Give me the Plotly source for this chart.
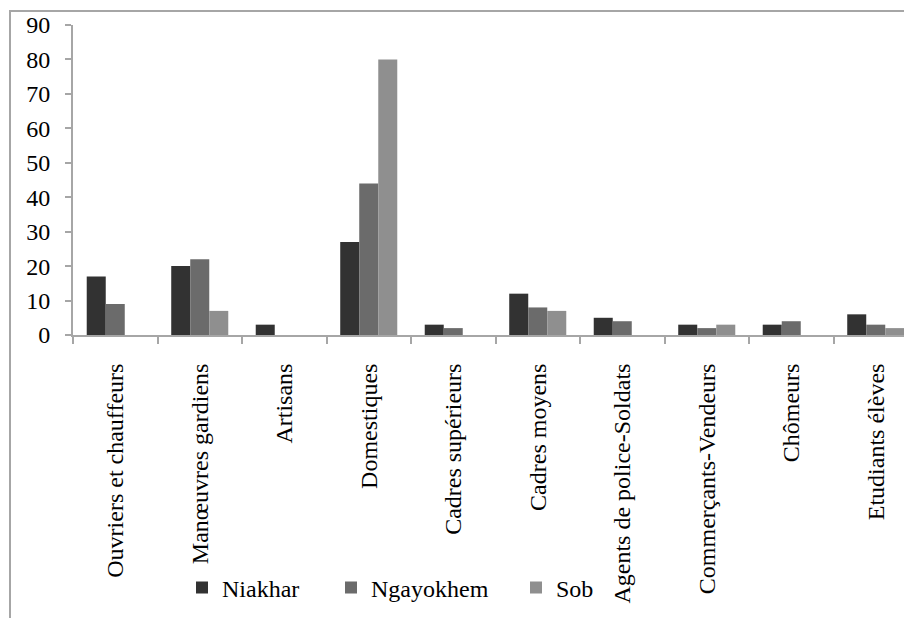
import plotly.graph_objects as go

categories = ["Ouvriers et chauffeurs", "Manœuvres gardiens", "Artisans", "Domestiques",
              "Cadres supérieurs", "Cadres moyens", "Agents de police-Soldats",
              "Commerçants-Vendeurs", "Chômeurs", "Etudiants élèves"]
niakhar = [17, 20, 3, 27, 3, 12, 5, 3, 3, 6]
ngayokhem = [9, 22, 0, 44, 2, 8, 4, 2, 4, 3]
sob = [0, 7, 0, 80, 0, 7, 0, 3, 0, 2]
y_ticks = [0, 10, 20, 30, 40, 50, 60, 70, 80, 90]

FONT = "Liberation Serif"
W, H = 904, 618
PLOT_H = 310

fig = go.Figure()
series = [("Niakhar", niakhar, "#323232", "legend"),
          ("Ngayokhem", ngayokhem, "#6b6b6b", "legend2"),
          ("Sob", sob, "#8f8f8f", "legend3")]
for name, vals, col, lg in series:
    fig.add_trace(go.Bar(x=categories, y=vals, name=name, marker_color=col,
                         marker_line_width=0, legend=lg, showlegend=True))

legend_common = dict(orientation="h", xref="container", yref="container",
                     xanchor="left", yanchor="middle", y=1 - 588 / H,
                     font=dict(family=FONT, size=24, color="#000000"),
                     bgcolor="rgba(0,0,0,0)", borderwidth=0, itemwidth=30)

fig.update_layout(
    width=W, height=H,
    margin=dict(l=73, r=0, t=25, b=H - 25 - PLOT_H, autoexpand=False),
    paper_bgcolor="white", plot_bgcolor="white",
    barmode="group", bargap=0.325, bargroupgap=0,
    font=dict(family=FONT, size=24, color="#000000"),
    showlegend=True,
    legend=dict(x=182 / W, **legend_common),
    legend2=dict(x=331 / W, **legend_common),
    legend3=dict(x=516 / W, **legend_common),
    xaxis=dict(range=[-0.5, 9.5 - 14 / 84.5], showline=True, linecolor="#a6a6a6", linewidth=2,
               ticks="outside", tickson="boundaries", ticklen=7, tickcolor="#a6a6a6", tickwidth=2,
               tickangle=-90, tickfont=dict(family=FONT, size=24, color="#000000"),
               ticklabelstandoff=17, showgrid=False, zeroline=False, automargin=False),
    yaxis=dict(range=[0, 90], tickvals=y_ticks, showline=True, linecolor="#a6a6a6", linewidth=2,
               ticks="outside", ticklen=6, tickcolor="#a6a6a6", tickwidth=2,
               tickfont=dict(family=FONT, size=24, color="#000000"),
               ticklabelstandoff=10, showgrid=False, zeroline=False, automargin=False),
    shapes=[dict(type="rect", xref="paper", yref="paper",
                 x0=(10 - 73) / 831, x1=1.5, y0=(335 - 700) / PLOT_H, y1=(335 - 11) / PLOT_H,
                 line=dict(color="#a6a6a6", width=2), fillcolor="rgba(0,0,0,0)", layer="below")],
)

fig.write_html("out.html",
               config={"displayModeBar": False},
               post_script="document.body.style.margin='0';document.body.style.overflow='hidden';")
